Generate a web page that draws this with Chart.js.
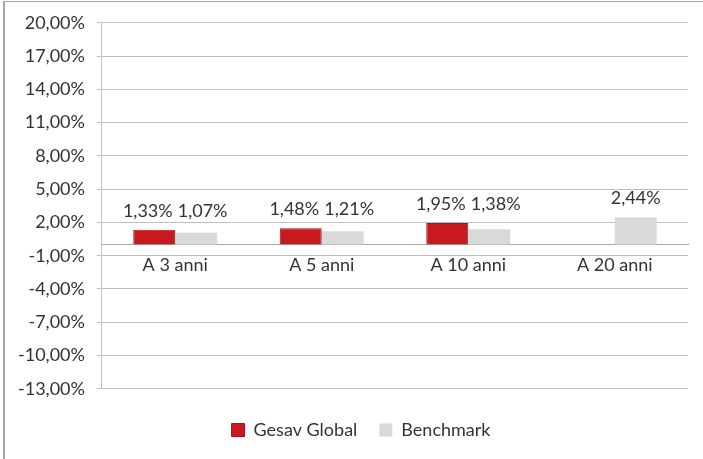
<!DOCTYPE html>
<html>
<head>
<meta charset="utf-8">
<script src="https://cdn.jsdelivr.net/npm/chart.js@4.4.0/dist/chart.umd.min.js"></script>
<style>
body { margin: 0; background: #fff; }
#cornice { position: absolute; left: 3px; top: 1px; width: 700px; height: 458px; border-left: 2px solid #a6a6a6; border-top: 1px solid #a6a6a6; }
#contenitore { position: absolute; left: 0; top: 0; width: 703px; height: 459px; }
</style>
</head>
<body>
<div id="cornice"></div>
<div id="contenitore"><canvas id="grafico"></canvas></div>
<script>
// Dati del grafico
var categorie = ["A 3 anni", "A 5 anni", "A 10 anni", "A 20 anni"];
var gesavGlobal = [1.33, 1.48, 1.95, null];
var benchmark = [1.07, 1.21, 1.38, 2.44];
var tickAsseY = [-13, -10, -7, -4, -1, 2, 5, 8, 11, 14, 17, 20];

var coloreTesto = '#333333';
var font = 'Lato';
var dimFont = 18;

function formattaPerc(v) {
    return v.toFixed(2).replace('.', ',') + '%';
}

// Etichette sopra le barre
var etichettePlugin = {
    id: 'etichette',
    afterDatasetsDraw: function (chart) {
        var ctx = chart.ctx;
        ctx.save();
        ctx.font = dimFont + 'px ' + font;
        ctx.fillStyle = coloreTesto;
        ctx.textAlign = 'center';
        ctx.textBaseline = 'middle';
        categorie.forEach(function (cat, i) {
            var voci = [];
            chart.data.datasets.forEach(function (ds, d) {
                var v = ds.data[i];
                if (v === null) return;
                var barra = chart.getDatasetMeta(d).data[i];
                var testo = formattaPerc(v);
                voci.push({ testo: testo, x: barra.x, top: barra.y, w: ctx.measureText(testo).width });
            });
            if (!voci.length) return;
            var top = Math.min.apply(null, voci.map(function (e) { return e.top; }));
            // allontana le etichette che si sovrappongono
            if (voci.length === 2) {
                var sovr = (voci[0].x + voci[0].w / 2 + 5) - (voci[1].x - voci[1].w / 2);
                if (sovr > 0) {
                    voci[0].x -= sovr / 2;
                    voci[1].x += sovr / 2;
                }
            }
            voci.forEach(function (e) {
                ctx.fillText(e.testo, e.x, top - 19);
            });
        });
        ctx.restore();
    }
};

// sposta un po' la legenda verso destra, come nell'originale
var spostaLegenda = {
    id: 'spostaLegenda',
    afterLayout: function (chart) {
        if (chart.legend) {
            chart.legend.left += 14;
            chart.legend.right += 14;
        }
    }
};

var ctx = document.getElementById('grafico');

window.myBar = new Chart(ctx, {
    type: 'bar',
    data: {
        labels: categorie,
        datasets: [{
            label: 'Gesav Global',
            data: gesavGlobal,
            backgroundColor: '#c8191f',
            borderColor: '#a8141a',
            borderWidth: 1,
            categoryPercentage: 0.573,
            barPercentage: 1.0
        }, {
            label: 'Benchmark',
            data: benchmark,
            backgroundColor: '#d9d9d9',
            borderColor: '#d9d9d9',
            borderWidth: 0,
            categoryPercentage: 0.573,
            barPercentage: 1.0
        }]
    },
    options: {
        responsive: true,
        maintainAspectRatio: false,
        animation: false,
        layout: {
            padding: { left: 6, right: 15, top: 10, bottom: 10 }
        },
        scales: {
            x: {
                type: 'category',
                position: { y: 0 },
                grid: { display: false, drawTicks: false },
                border: { display: true, color: '#a6a6a6', width: 1 },
                ticks: {
                    padding: 10,
                    color: coloreTesto,
                    font: { family: font, size: dimFont }
                }
            },
            y: {
                min: -13,
                max: 20,
                afterBuildTicks: function (scale) {
                    scale.ticks = tickAsseY.map(function (v) { return { value: v }; });
                },
                grid: {
                    color: '#bfbfbf',
                    lineWidth: 1,
                    drawTicks: true,
                    tickLength: 5
                },
                border: { display: true, color: '#bfbfbf', width: 1 },
                ticks: {
                    padding: 12,
                    color: coloreTesto,
                    font: { family: font, size: dimFont },
                    callback: function (v) { return formattaPerc(v); }
                }
            }
        },
        plugins: {
            legend: {
                position: 'bottom',
                // titolo vuoto usato solo come spazio sopra la legenda
                title: { display: true, text: '', font: { size: 1 }, padding: { top: 9, bottom: 0 } },
                labels: {
                    boxWidth: 13,
                    boxHeight: 13,
                    padding: 22,
                    color: coloreTesto,
                    font: { family: font, size: dimFont }
                }
            },
            title: { display: false },
            tooltip: { enabled: false }
        }
    },
    plugins: [etichettePlugin, spostaLegenda]
});
</script>
</body>
</html>
